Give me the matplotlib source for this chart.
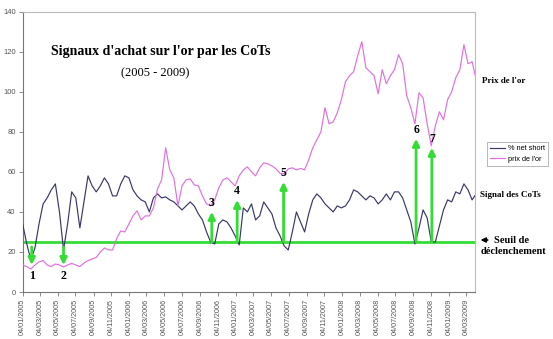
import matplotlib
matplotlib.use("Agg")
import matplotlib.pyplot as plt
import pandas as pd

# ---- data (biweekly samples) ----
net_short = [34, 24, 16, 22, 34, 44, 47, 51, 54, 40,
             21, 34, 50, 47, 32, 45, 58, 53, 50, 53,
             57, 54, 48, 48, 54, 58, 57, 51, 48, 46,
             45, 40, 47, 49, 47, 47.5, 46, 45, 43, 41,
             43, 45, 43, 39, 36, 30, 25, 24, 34, 36,
             35, 32, 28, 23.5, 42, 40, 44, 36, 38, 45,
             42, 39, 32, 28, 23, 21, 30, 40, 35, 30,
             39, 46, 49, 47, 44, 42, 40, 43, 42, 43,
             46, 51, 50, 48, 46, 48, 47, 44, 46, 49,
             46, 50, 50, 47, 41, 35, 24, 32, 41, 37,
             25, 25, 33, 41, 46, 45, 50, 49, 54, 51,
             46, 49]
gold_price = [13.5, 12.7, 11.5, 13.5, 15, 15.7, 13.5, 12.7, 14, 13.5,
              12.5, 13.5, 14.3, 13.5, 12.7, 14.5, 15.7, 16.5, 17.3, 20,
              22, 21, 21, 26.7, 30.5, 30, 34, 38, 40.5, 36,
              38, 38, 42, 51.5, 56, 72, 61, 57, 43, 53,
              56, 56.5, 53.5, 53, 48, 44, 43, 46, 52, 56,
              57, 55, 53, 58, 61, 62.5, 60, 58, 62, 64.5,
              64, 63, 61.5, 59.2, 59, 61.5, 62, 61, 61.7, 61,
              66, 72, 76, 80, 92, 84, 85, 89.5, 96, 105,
              108, 110, 118, 125, 112, 110, 108, 99, 111, 104,
              108, 111, 118.5, 114, 98, 92, 84, 99.5, 97, 84,
              73, 83, 90, 86, 96, 100, 107, 111, 123.5, 114,
              115, 106]
start_date = "2005-01-04"
end_date = "2009-04-03"
threshold = 25

# buy signals: date, arrow tip value, label
signal_dates = ["2005-02-04", "2005-05-24", "2006-10-14", "2007-01-09",
                "2007-06-17", "2008-09-13", "2008-11-06"]
signal_tips = [13.5, 13.5, 40, 46, 55, 76.5, 72]
signal_labels = ["1", "2", "3", "4", "5", "6", "7"]

tick_labels = ["04/01/2005", "04/03/2005", "04/05/2005", "04/07/2005", "04/09/2005", "04/11/2005",
               "04/01/2006", "04/03/2006", "04/05/2006", "04/07/2006", "04/09/2006", "04/11/2006",
               "04/01/2007", "04/03/2007", "04/05/2007", "04/07/2007", "04/09/2007", "04/11/2007",
               "04/01/2008", "04/03/2008", "04/05/2008", "04/07/2008", "04/09/2008", "04/11/2008",
               "04/01/2009", "04/03/2009"]
y_ticks = [0, 20, 40, 60, 80, 100, 120, 140]

# ---- figure ----
dates = pd.date_range(start_date, periods=len(net_short), freq="14D")
navy = "#38386a"
violet = "#e070e0"
green = "#33dd33"
serif = "Liberation Serif"
sans = "Liberation Sans"

fig = plt.figure(figsize=(5.53, 3.39), dpi=100)
ax = fig.add_axes([0.041, 0.1386, 0.818, 0.827])

ax.plot(dates, net_short, color=navy, lw=0.85, label="% net short", zorder=3)
ax.plot(dates, gold_price, color=violet, lw=0.85, label="prix de l'or", zorder=3)
ax.axhline(threshold, color=green, lw=2, zorder=2)

for d, tip, lab in zip(signal_dates, signal_tips, signal_labels):
    dt = pd.Timestamp(d)
    if tip < threshold:
        ax.annotate("", xy=(dt, tip), xytext=(dt, threshold - 2.5),
                    arrowprops=dict(arrowstyle="-|>", color=green, lw=2,
                                    mutation_scale=10, shrinkA=0, shrinkB=0), zorder=4)
        ax.text(dt, tip - 2.5, lab, ha="center", va="top", family=serif,
                fontweight="bold", fontsize=8.5, color="black", zorder=5)
    else:
        ax.annotate("", xy=(dt, tip), xytext=(dt, threshold),
                    arrowprops=dict(arrowstyle="-|>", color=green, lw=2,
                                    mutation_scale=10, shrinkA=0, shrinkB=0), zorder=4)
        ax.text(dt, tip + 1.5, lab, ha="center", va="bottom", family=serif,
                fontweight="bold", fontsize=8.5, color="black", zorder=5)

ax.set_xlim(pd.Timestamp(start_date), pd.Timestamp(end_date))
ax.set_ylim(0, 140)
tick_dates = [pd.to_datetime(t, dayfirst=True) for t in tick_labels]
ax.set_xticks(tick_dates)
ax.set_xticklabels(tick_labels, rotation=90, fontsize=5.2, color="#555555", family=sans)
ax.set_yticks(y_ticks)
ax.set_yticklabels([str(v) for v in y_ticks], fontsize=5.5, color="#555555", family=sans)
ax.tick_params(axis="both", length=3, width=0.6, color="#777777", pad=2)
for s in ["left", "bottom"]:
    ax.spines[s].set_color("#777777")
    ax.spines[s].set_linewidth(0.8)
for s in ["top", "right"]:
    ax.spines[s].set_color("#bbbbbb")
    ax.spines[s].set_linewidth(0.8)

fig.text(0.291, 0.8475, "Signaux d'achat sur l'or par les CoTs", ha="center", va="center",
         family=serif, fontweight="bold", fontsize=10)
fig.text(0.281, 0.785, "(2005 - 2009)", ha="center", va="center", family=serif, fontsize=9)

leg = fig.legend(loc="upper left", bbox_to_anchor=(0.874, 0.592),
                 frameon=True, fancybox=False, edgecolor="#999999", handlelength=2.0,
                 borderpad=0.4, labelspacing=0.5, handletextpad=0.4,
                 prop={"family": sans, "size": 5.3})
leg.get_frame().set_linewidth(0.6)

fig.text(0.871, 0.761, "Prix de l'or", ha="left", va="center", family=serif,
         fontweight="bold", fontsize=6.5)
fig.text(0.868, 0.425, "Signal des CoTs", ha="left", va="center", family=serif,
         fontweight="bold", fontsize=6.5)
fig.text(0.893, 0.292, "Seuil de", ha="left", va="center", family=serif,
         fontweight="bold", fontsize=7.5)
fig.text(0.869, 0.258, "déclenchement", ha="left", va="center", family=serif,
         fontweight="bold", fontsize=7.5)
fig.add_artist(matplotlib.patches.FancyArrowPatch((0.887, 0.292), (0.864, 0.292),
               transform=fig.transFigure, arrowstyle="-|>", mutation_scale=7,
               color="black", lw=1.2))

fig.savefig("out.png", dpi=100)
